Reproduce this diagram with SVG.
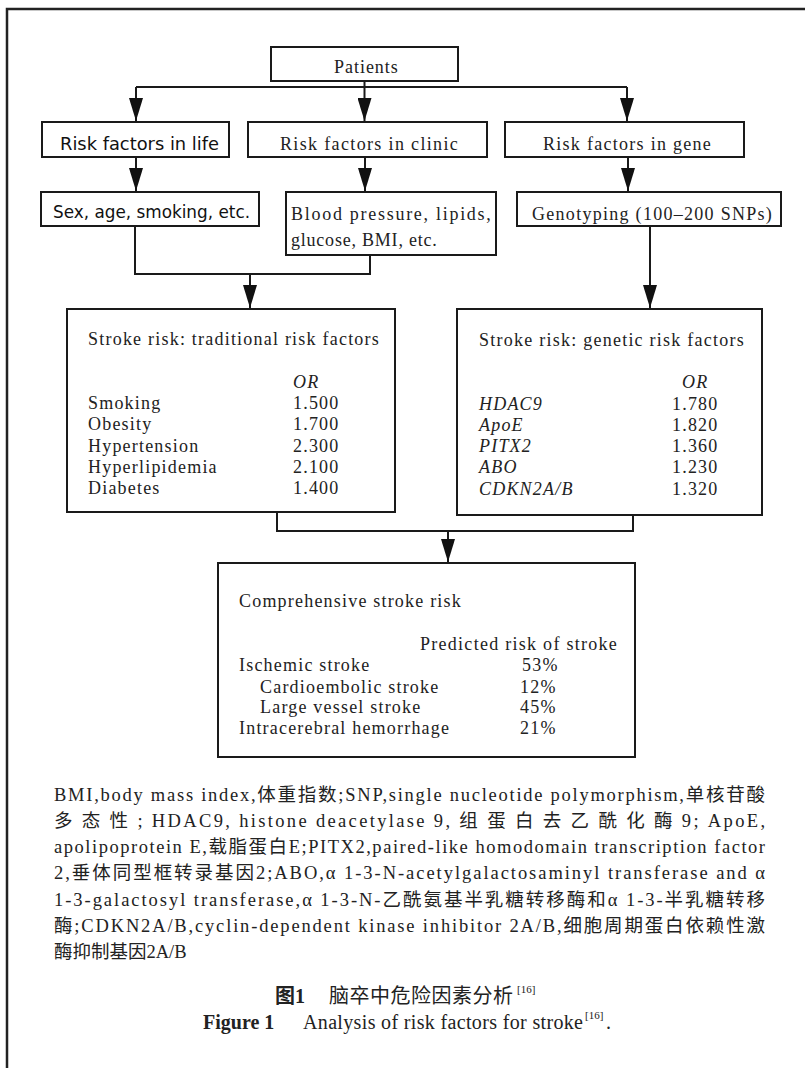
<svg xmlns="http://www.w3.org/2000/svg" width="805" height="1068" viewBox="0 0 805 1068">
<defs>
<style>
.box{fill:#fff;stroke:#1a1a1a;stroke-width:2}
.conn{fill:none;stroke:#1a1a1a;stroke-width:2}
.frame{fill:none;stroke:#222;stroke-width:2.5}
.t{font-family:"Liberation Serif","Noto Sans CJK SC",serif;font-size:18px;fill:#222;letter-spacing:1.2px}
.px{font-family:"DejaVu Sans",sans-serif;font-size:17px;fill:#111}
.it{font-style:italic}
.cap{font-family:"Liberation Serif","Noto Sans CJK SC",serif;font-size:18.5px;fill:#222}
.fig{font-family:"Liberation Serif","Noto Sans CJK SC",serif;font-size:20px;fill:#222}
.b{font-weight:bold}
</style>
<marker id="arr" markerUnits="userSpaceOnUse" markerWidth="24" markerHeight="14" refX="23" refY="7" orient="auto">
<path d="M0,0 L23,7 L0,14 z" fill="#111"/>
</marker>
</defs>
<rect width="805" height="1068" fill="#fff"/>
<path class="frame" d="M7,1068 V9 H805"/>

<g id="connectors">
<path class="conn" d="M364.5,81 V87 M136,87 H627"/>
<path class="conn" d="M136,87 V121" marker-end="url(#arr)"/>
<path class="conn" d="M364.5,87 V121" marker-end="url(#arr)"/>
<path class="conn" d="M627,87 V121" marker-end="url(#arr)"/>
<path class="conn" d="M136,157 V191" marker-end="url(#arr)"/>
<path class="conn" d="M365,157 V191" marker-end="url(#arr)"/>
<path class="conn" d="M628,157 V191" marker-end="url(#arr)"/>
<path class="conn" d="M135,226 V274 H370 V255"/>
<path class="conn" d="M250,274 V308" marker-end="url(#arr)"/>
<path class="conn" d="M650,226 V308" marker-end="url(#arr)"/>
<path class="conn" d="M277,512 V531 H633 V515"/>
<path class="conn" d="M448,531 V562" marker-end="url(#arr)"/>
</g>

<g id="patients">
<rect class="box" x="271" y="47" width="187" height="34"/>
<text class="t" x="334" y="73" textLength="65">Patients</text>
</g>

<g id="life">
<rect class="box" x="42" y="122" width="187" height="35"/>
<text class="px" x="60" y="150" textLength="159" lengthAdjust="spacingAndGlyphs">Risk factors in life</text>
</g>
<g id="clinic">
<rect class="box" x="248" y="122" width="239" height="35"/>
<text class="t" x="280" y="150" textLength="179">Risk factors in clinic</text>
</g>
<g id="gene">
<rect class="box" x="505" y="122" width="239" height="35"/>
<text class="t" x="543" y="150" textLength="169">Risk factors in gene</text>
</g>

<g id="sex">
<rect class="box" x="41" y="192" width="218" height="34"/>
<text class="px" x="53" y="218" textLength="197" lengthAdjust="spacingAndGlyphs">Sex, age, smoking, etc.</text>
</g>
<g id="blood">
<rect class="box" x="286" y="192" width="210" height="63"/>
<text class="t" x="291" y="220" textLength="201">Blood pressure, lipids,</text>
<text class="t" x="291" y="246" textLength="147">glucose, BMI, etc.</text>
</g>
<g id="genotyping">
<rect class="box" x="517" y="192" width="264" height="34"/>
<text class="t" x="532" y="220" textLength="241">Genotyping (100–200 SNPs)</text>
</g>

<g id="traditional">
<rect class="box" x="67" y="309" width="328" height="203"/>
<text class="t" x="88" y="345" textLength="292">Stroke risk: traditional risk factors</text>
<text class="t it" x="293" y="388">OR</text>
<text class="t" x="88" y="409">Smoking</text>
<text class="t" x="88" y="430">Obesity</text>
<text class="t" x="88" y="452">Hypertension</text>
<text class="t" x="88" y="473">Hyperlipidemia</text>
<text class="t" x="88" y="494">Diabetes</text>
<text class="t" x="293" y="409">1.500</text>
<text class="t" x="293" y="430">1.700</text>
<text class="t" x="293" y="452">2.300</text>
<text class="t" x="293" y="473">2.100</text>
<text class="t" x="293" y="494">1.400</text>
</g>

<g id="genetic">
<rect class="box" x="457" y="309" width="305" height="206"/>
<text class="t" x="479" y="346" textLength="266">Stroke risk: genetic risk factors</text>
<text class="t it" x="682" y="388">OR</text>
<text class="t it" x="479" y="410">HDAC9</text>
<text class="t it" x="479" y="431">ApoE</text>
<text class="t it" x="479" y="452">PITX2</text>
<text class="t it" x="479" y="473">ABO</text>
<text class="t it" x="479" y="495">CDKN2A/B</text>
<text class="t" x="672" y="410">1.780</text>
<text class="t" x="672" y="431">1.820</text>
<text class="t" x="672" y="452">1.360</text>
<text class="t" x="672" y="473">1.230</text>
<text class="t" x="672" y="495">1.320</text>
</g>

<g id="comprehensive">
<rect class="box" x="218" y="563" width="417" height="194"/>
<text class="t" x="239" y="607">Comprehensive stroke risk</text>
<text class="t" x="420" y="650" textLength="198">Predicted risk of stroke</text>
<text class="t" x="239" y="671">Ischemic stroke</text>
<text class="t" x="260" y="693">Cardioembolic stroke</text>
<text class="t" x="260" y="713">Large vessel stroke</text>
<text class="t" x="239" y="734">Intracerebral hemorrhage</text>
<text class="t" x="522" y="671">53%</text>
<text class="t" x="520" y="693">12%</text>
<text class="t" x="520" y="713">45%</text>
<text class="t" x="520" y="734">21%</text>
</g>

<g id="legend">
<text class="cap" x="54" y="801" textLength="711">BMI,body mass index,体重指数;SNP,single nucleotide polymorphism,单核苷酸</text>
<text class="cap" x="54" y="827" textLength="711">多 态 性 ; HDAC9, histone deacetylase 9, 组 蛋 白 去 乙 酰 化 酶 9; ApoE,</text>
<text class="cap" x="54" y="853" textLength="711">apolipoprotein E,载脂蛋白E;PITX2,paired-like homodomain transcription factor</text>
<text class="cap" x="54" y="879" textLength="711">2,垂体同型框转录基因2;ABO,α 1-3-N-acetylgalactosaminyl transferase and α</text>
<text class="cap" x="54" y="906" textLength="711">1-3-galactosyl transferase,α 1-3-N-乙酰氨基半乳糖转移酶和α 1-3-半乳糖转移</text>
<text class="cap" x="54" y="932" textLength="711">酶;CDKN2A/B,cyclin-dependent kinase inhibitor 2A/B,细胞周期蛋白依赖性激</text>
<text class="cap" x="54" y="958">酶抑制基因2A/B</text>
</g>

<g id="caption">
<text class="fig" y="1003"><tspan class="b" x="275">图1</tspan><tspan x="329" textLength="184">脑卒中危险因素分析</tspan><tspan x="517" y="993" font-size="11">[16]</tspan></text>
<text class="fig" y="1029"><tspan class="b" x="203">Figure 1</tspan><tspan x="303" textLength="280">Analysis of risk factors for stroke</tspan><tspan x="585" y="1019" font-size="11">[16]</tspan><tspan x="606" y="1029">.</tspan></text>
</g>
</svg>
